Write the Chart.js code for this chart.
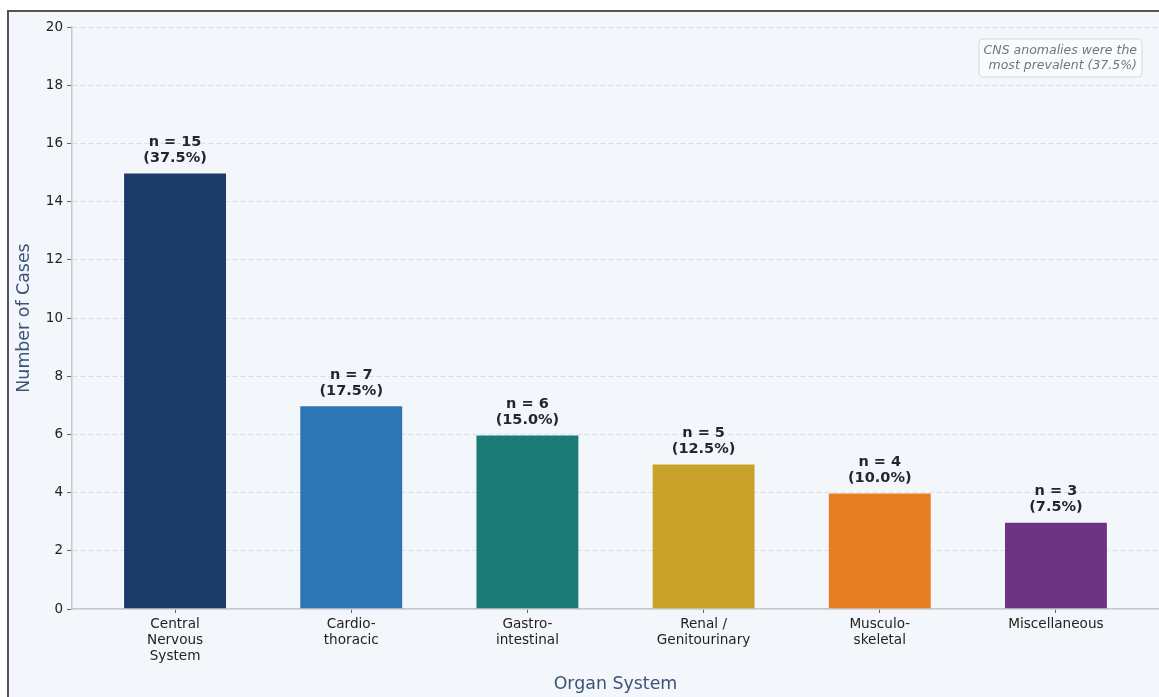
<!DOCTYPE html>
<html>
<head>
<meta charset="utf-8">
<script src="https://cdn.jsdelivr.net/npm/chart.js@4.4.1/dist/chart.umd.min.js"></script>
<style>
  html, body { margin: 0; padding: 0; background: #ffffff; overflow: hidden; }
  #frame {
    position: absolute; left: 7px; top: 10px; width: 1170px; height: 700px;
    border-top: 2px solid #555; border-left: 2px solid #555;
    background: #f3f6fa;
  }
  #myBarChart { position: absolute; left: 0; top: 0; }
</style>
</head>
<body>
<div id="frame"></div>
<canvas id="myBarChart" width="1159" height="697"></canvas>
<script>
// Data
const categories = [
    ['Central', 'Nervous', 'System'],
    ['Cardio-', 'thoracic'],
    ['Gastro-', 'intestinal'],
    ['Renal /', 'Genitourinary'],
    ['Musculo-', 'skeletal'],
    ['Miscellaneous']
];
const caseCounts = [15, 7, 6, 5, 4, 3];
const percentLabels = ['37.5%', '17.5%', '15.0%', '12.5%', '10.0%', '7.5%'];
const barColors = ['#1b3a68', '#2e75b6', '#1b7b77', '#c9a22a', '#e67e22', '#6c3483'];
const yTicks = [0, 2, 4, 6, 8, 10, 12, 14, 16, 18, 20];
const noteLines = ['CNS anomalies were the', 'most prevalent (37.5%)'];

const FONT = "'DejaVu Sans', sans-serif";

// value labels above each bar
const barLabelPlugin = {
    id: 'barLabels',
    afterDatasetsDraw(chart) {
        const ctx = chart.ctx;
        const meta = chart.getDatasetMeta(0);
        ctx.save();
        ctx.font = 'bold 14.5px ' + FONT;
        ctx.fillStyle = '#1f2633';
        ctx.textAlign = 'center';
        ctx.textBaseline = 'middle';
        meta.data.forEach(function(bar, i) {
            ctx.fillText('n = ' + caseCounts[i], bar.x, bar.y - 30);
            ctx.fillText('(' + percentLabels[i] + ')', bar.x, bar.y - 14);
        });
        ctx.restore();
    }
};

// note box in the top right corner
const notePlugin = {
    id: 'noteBox',
    afterDraw(chart) {
        const ctx = chart.ctx;
        const area = chart.chartArea;
        const right = area.right - 17;
        const top = area.top + 12;
        const w = 163, h = 38;
        ctx.save();
        ctx.beginPath();
        ctx.roundRect(right - w, top, w, h, 4);
        ctx.fillStyle = 'rgba(255,255,255,0.6)';
        ctx.fill();
        ctx.strokeStyle = '#d3d8de';
        ctx.lineWidth = 1;
        ctx.stroke();
        ctx.font = 'italic 12.5px ' + FONT;
        ctx.fillStyle = '#6b7684';
        ctx.textAlign = 'right';
        ctx.textBaseline = 'middle';
        ctx.fillText(noteLines[0], right - 5, top + 12);
        ctx.fillText(noteLines[1], right - 5, top + 27);
        ctx.restore();
    }
};

const ctxBar = document.getElementById('myBarChart').getContext('2d');
const myBarChart = new Chart(ctxBar, {
    type: 'bar',
    data: {
        datasets: [{
            label: 'Number of Cases',
            data: caseCounts.map(function(v, i) { return { x: i, y: v }; }),
            backgroundColor: barColors,
            borderColor: 'rgba(255,255,255,0.5)',
            borderWidth: 1,
            borderSkipped: 'bottom',
            categoryPercentage: 1.0,
            barPercentage: 0.59
        }]
    },
    options: {
        responsive: false,
        animation: false,
        layout: { padding: { left: 0, right: 0, top: 27, bottom: 0 } },
        plugins: {
            legend: { display: false },
            tooltip: { enabled: false }
        },
        scales: {
            x: {
                type: 'linear',
                min: -0.585,
                max: 5.585,
                offset: false,
                afterBuildTicks: function(axis) {
                    axis.ticks = categories.map(function(c, i) { return { value: i }; });
                },
                afterFit: function(axis) { axis.height = 88; },
                grid: {
                    display: true,
                    offset: false,
                    drawOnChartArea: false,
                    drawTicks: true,
                    tickLength: 4,
                    tickColor: '#666',
                    tickWidth: 1
                },
                border: { display: true, color: '#c5c9ce', width: 1.5 },
                ticks: {
                    autoSkip: false,
                    maxRotation: 0,
                    padding: 4,
                    color: '#222',
                    font: { family: FONT, size: 13.6, lineHeight: 1.17 },
                    callback: function(value) { return categories[value]; }
                },
                title: {
                    display: true,
                    text: 'Organ System',
                    color: '#3b5478',
                    font: { family: FONT, size: 17.4 },
                    padding: { top: 0, bottom: 2 }
                }
            },
            y: {
                min: 0,
                max: 20,
                afterBuildTicks: function(axis) {
                    axis.ticks = yTicks.map(function(v) { return { value: v }; });
                },
                afterFit: function(axis) { axis.width = 72; },
                grid: {
                    color: '#d9dee5',
                    lineWidth: 1,
                    drawTicks: true,
                    tickLength: 5,
                    tickColor: '#666',
                    tickWidth: 1
                },
                border: { display: true, color: '#c5c9ce', width: 1.5, dash: [5, 3] },
                ticks: {
                    padding: 4,
                    color: '#222',
                    font: { family: FONT, size: 13.5 }
                },
                title: {
                    display: true,
                    text: 'Number of Cases',
                    color: '#3b5478',
                    font: { family: FONT, size: 17.4 },
                    padding: { top: 14, bottom: 0 }
                }
            }
        }
    },
    plugins: [barLabelPlugin, notePlugin]
});
</script>
</body>
</html>
